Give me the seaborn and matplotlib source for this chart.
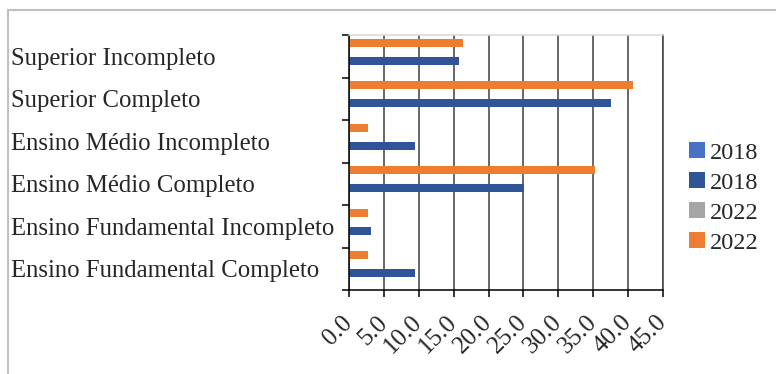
import numpy as np
import pandas as pd
import seaborn as sns
import matplotlib.pyplot as plt
from matplotlib.patches import Patch
from matplotlib.lines import Line2D

# Escolaridade: percentual por nível, 2018 x 2022
categorias = [
    "Superior Incompleto",
    "Superior Completo",
    "Ensino Médio Incompleto",
    "Ensino Médio Completo",
    "Ensino Fundamental Incompleto",
    "Ensino Fundamental Completo",
]
valores_2018 = [15.7, 37.6, 9.4, 25.1, 3.1, 9.4]
valores_2022 = [16.3, 40.7, 2.7, 35.2, 2.7, 2.7]
ticks_x = [0, 5, 10, 15, 20, 25, 30, 35, 40, 45]

# Series as they appear in the legend (two of them carry no values)
series = ["2018 claro", "2018", "2022 cinza", "2022"]
rotulos_legenda = ["2018", "2018", "2022", "2022"]
cores = {"2018 claro": "#4472C4", "2018": "#2F5597",
         "2022 cinza": "#A5A5A5", "2022": "#ED7D31"}

df = pd.concat([
    pd.DataFrame({"nivel": categorias, "serie": "2018", "valor": valores_2018}),
    pd.DataFrame({"nivel": categorias, "serie": "2022", "valor": valores_2022}),
], ignore_index=True)

sns.set_style("white")
plt.rcParams["font.family"] = ["Liberation Serif", "DejaVu Serif"]

fig = plt.figure(figsize=(7.76, 3.74), dpi=100)
ax = fig.add_axes([349 / 776, 1 - 290 / 374, (663 - 349) / 776, (290 - 35) / 374])

sns.barplot(data=df, y="nivel", x="valor", hue="serie", order=categorias,
            hue_order=["2022", "2022 cinza", "2018", "2018 claro"],
            palette=cores, saturation=1, orient="h", width=0.85, gap=0.1,
            linewidth=0, legend=False, ax=ax)

ax.set_xlim(0, 45)
ax.set_ylim(5.5, -0.5)
ax.set_xlabel("")
ax.set_ylabel("")

# vertical gridlines
ax.set_xticks(ticks_x)
ax.set_xticklabels([f"{v:.1f}" for v in ticks_x], fontsize=18, rotation=45,
                   ha="right", va="center", rotation_mode="anchor")
ax.grid(axis="x", color="#3f3f3f", linewidth=1.1)
ax.grid(axis="y", visible=False)
ax.set_axisbelow(True)

# category labels at centers, tick marks at boundaries
ax.set_yticks(range(len(categorias)))
ax.set_yticklabels(categorias, fontsize=17.8, ha="left")
ax.set_yticks(np.arange(-0.5, len(categorias), 1.0), minor=True)
ax.tick_params(axis="y", which="major", length=0, pad=338 * 0.72)
ax.tick_params(axis="y", which="minor", length=5, width=1.1, color="black",
               direction="out", left=True)
ax.tick_params(axis="x", which="major", length=5, width=1.1, color="black",
               direction="out", bottom=True, pad=16)

for lado in ["left", "bottom"]:
    ax.spines[lado].set_color("black")
    ax.spines[lado].set_linewidth(1.1)
ax.spines["top"].set_color("#d9d9d9")
ax.spines["top"].set_linewidth(1.1)
ax.spines["right"].set_color("#3f3f3f")
ax.spines["right"].set_linewidth(1.1)

handles = [Patch(facecolor=cores[s], edgecolor="none") for s in series]
fig.legend(handles, rotulos_legenda, loc="upper left",
           bbox_to_anchor=(689 / 776, 1 - 142 / 374), frameon=False,
           fontsize=17.5, handlelength=0.66, handleheight=0.66,
           handletextpad=0.2, labelspacing=0.34, borderpad=0, borderaxespad=0)

# outer frame
fig.add_artist(Line2D([8 / 776, 1.01], [1 - 10 / 374] * 2, color="#bfbfbf",
                      linewidth=1.5, transform=fig.transFigure))
fig.add_artist(Line2D([8 / 776] * 2, [1 - 10 / 374, -0.01], color="#bfbfbf",
                      linewidth=1.5, transform=fig.transFigure))

fig.savefig("out.png", dpi=100)
